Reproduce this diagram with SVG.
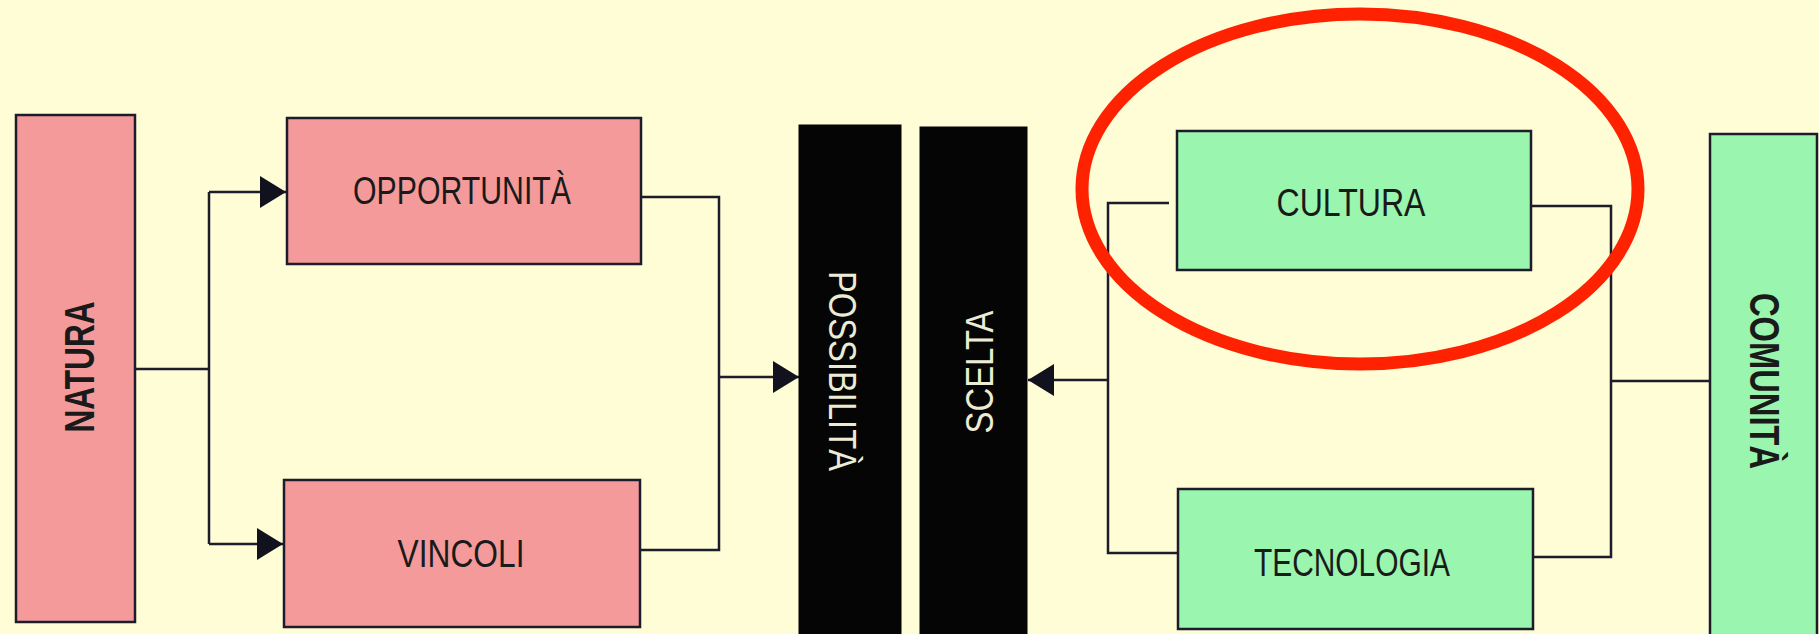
<svg xmlns="http://www.w3.org/2000/svg" width="1819" height="634" viewBox="0 0 1819 634">
<style>
.bg{fill:#fefdd6}
.pink{fill:#f49a9a;stroke:#1c1c2a;stroke-width:2.5}
.green{fill:#9af5ae;stroke:#1c1c2a;stroke-width:2.5}
.black{fill:#050505;stroke:#050505;stroke-width:1}
.lbl{font-family:"Liberation Sans Narrow","Liberation Sans",Arial,sans-serif;font-size:39px;fill:#1a1a1a;text-anchor:middle}
.bold{font-weight:bold;font-size:42px}
.light{fill:#ecebd4}
.conn{fill:none;stroke:#1c1c2a;stroke-width:2.5}
</style>
<defs>
<marker id="arr" markerUnits="userSpaceOnUse" markerWidth="28" markerHeight="34" refX="26" refY="16" orient="auto">
<path d="M0,0 L26,16 L0,32 Z" fill="#12121e"/>
</marker>
</defs>
<rect class="bg" x="0" y="0" width="1819" height="634"/>

<g id="connectors">
<path class="conn" d="M135 369 H209"/>
<path class="conn" d="M209 192 V544"/>
<path class="conn" d="M209 192 H286" marker-end="url(#arr)"/>
<path class="conn" d="M209 544 H283" marker-end="url(#arr)"/>
<path class="conn" d="M641 197 H719 V550 H640"/>
<path class="conn" d="M719 377 H799" marker-end="url(#arr)"/>
<path class="conn" d="M1169 203 H1108 V553 H1178"/>
<path class="conn" d="M1108 380 H1028" marker-end="url(#arr)"/>
<path class="conn" d="M1531 206 H1611 V557 H1533"/>
<path class="conn" d="M1611 381 H1710"/>
</g>

<g id="natura">
<rect class="pink" x="16" y="115" width="119" height="507"/>
<text class="lbl bold" transform="translate(94,367) rotate(-90)" textLength="131" lengthAdjust="spacingAndGlyphs">NATURA</text>
</g>

<g id="opportunita">
<rect class="pink" x="287" y="118" width="354" height="146"/>
<text class="lbl" x="462" y="204" textLength="218" lengthAdjust="spacingAndGlyphs">OPPORTUNITÀ</text>
</g>

<g id="vincoli">
<rect class="pink" x="284" y="480" width="356" height="147"/>
<text class="lbl" x="461" y="567" textLength="127" lengthAdjust="spacingAndGlyphs">VINCOLI</text>
</g>

<g id="possibilita">
<rect class="black" x="799" y="125" width="102" height="515"/>
<text class="lbl light" transform="translate(829,371) rotate(90)" textLength="200" lengthAdjust="spacingAndGlyphs">POSSIBILITÀ</text>
</g>

<g id="scelta">
<rect class="black" x="920" y="127" width="107" height="513"/>
<text class="lbl light" transform="translate(993,372) rotate(-90)" textLength="123" lengthAdjust="spacingAndGlyphs">SCELTA</text>
</g>

<g id="cultura">
<rect class="green" x="1177" y="131" width="354" height="139"/>
<text class="lbl" x="1351" y="216" textLength="149" lengthAdjust="spacingAndGlyphs">CULTURA</text>
</g>

<g id="tecnologia">
<rect class="green" x="1178" y="489" width="355" height="140"/>
<text class="lbl" x="1352" y="576" textLength="196" lengthAdjust="spacingAndGlyphs">TECNOLOGIA</text>
</g>

<g id="comunita">
<rect class="green" x="1710" y="134" width="107" height="510"/>
<text class="lbl bold" transform="translate(1750,381) rotate(90)" textLength="176" lengthAdjust="spacingAndGlyphs">COMUNITÀ</text>
</g>

<g id="highlight">
<ellipse cx="1360" cy="189" rx="278" ry="175" fill="none" stroke="#ff2200" stroke-width="13"/>
</g>
</svg>
